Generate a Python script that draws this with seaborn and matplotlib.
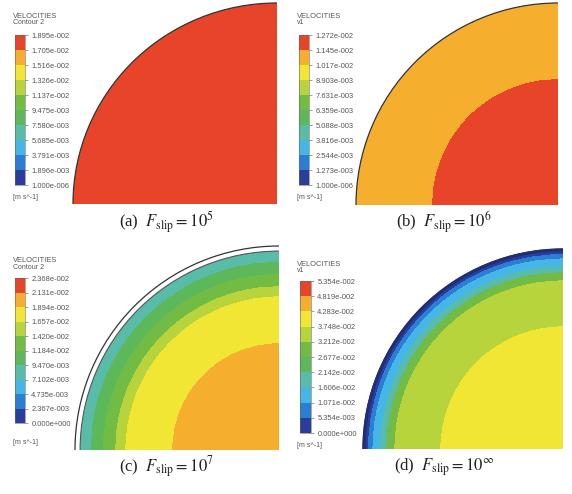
import numpy as np
import matplotlib
matplotlib.use("Agg")
import matplotlib.pyplot as plt
from matplotlib.colors import ListedColormap
from matplotlib.patches import Wedge, Arc
import seaborn as sns

sns.set_theme(style="white")
plt.rcParams['font.family'] = ['Liberation Sans', 'DejaVu Sans']
plt.rcParams['mathtext.fontset'] = 'stix'

W, H = 572, 494

# legend labels, top to bottom (as printed in the CFD legends)
ticks_a = ["1.895e-002", "1.705e-002", "1.516e-002", "1.326e-002", "1.137e-002", "9.475e-003",
           "7.580e-003", "5.685e-003", "3.791e-003", "1.896e-003", "1.000e-006"]
ticks_b = ["1.272e-002", "1.145e-002", "1.017e-002", "8.903e-003", "7.631e-003", "6.359e-003",
           "5.088e-003", "3.816e-003", "2.544e-003", "1.273e-003", "1.000e-006"]
ticks_c = ["2.368e-002", "2.131e-002", "1.894e-002", "1.657e-002", "1.420e-002", "1.184e-002",
           "9.470e-003", "7.102e-003", "4.735e-003", "2.367e-003", "0.000e+000"]
ticks_d = ["5.354e-002", "4.819e-002", "4.283e-002", "3.748e-002", "3.212e-002", "2.677e-002",
           "2.142e-002", "1.606e-002", "1.071e-002", "5.354e-003", "0.000e+000"]
subtitles = ["Contour 2", "v1", "Contour 2", "v1"]
captions = [r"(a)  $F_{\rm slip}{=}10^{5}$", r"(b)  $F_{\rm slip}{=}10^{6}$",
            r"(c)  $F_{\rm slip}{=}10^{7}$", r"(d)  $F_{\rm slip}{=}10^{\infty}$"]

# radial bands: outer edge of each band as r/R (centre outwards) and the velocity inside it
edges_a = []
vel_a = [1.86e-2]
edges_b = [0.62]
vel_b = [1.21e-2, 1.08e-2]
edges_c = [0.52, 0.75, 0.80, 0.86, 0.92]
vel_c = [2.0e-2, 1.76e-2, 1.55e-2, 1.30e-2, 1.05e-2, 0.80e-2]
edges_d = [0.61, 0.84, 0.88, 0.91, 0.95, 0.972]
vel_d = [4.0e-2, 3.45e-2, 2.9e-2, 1.9e-2, 1.3e-2, 0.8e-2, 0.25e-2]
wall = [1.0, 1.0, 0.975, 1.0]

# ANSYS-like 10 step legend colours
cmap = ListedColormap(sns.color_palette(["#2b3d9a", "#2a7fd4", "#45b6e6", "#58bca8", "#5db85a",
                                         "#72bb45", "#b8d43c", "#f2e634", "#f5ae2e", "#e8442a"]))

# layout in pixels: plot box (l, t, r, b), colorbar box, text anchors
boxes = [(73, 3, 277, 204), (356, 3, 558, 205), (75, 246, 279, 450), (363, 249, 563, 449)]
cboxes = [(15, 35, 25, 185), (299, 35, 309, 185), (15, 278, 25, 423), (300, 281, 311, 433)]
title_xy = [(13, 16), (297, 16), (13, 260), (297, 264)]
unit_y = [197, 197, 442, 445]
cap_xy = [(166, 222), (444, 222), (166, 467), (444, 467)]


def rect(b):
    l, t, r, bt = b
    return [l / W, 1 - bt / H, (r - l) / W, (bt - t) / H]


fig = plt.figure(figsize=(W / 100, H / 100), dpi=100)
fig.patch.set_facecolor("white")

g = np.linspace(-1, 0, 500)
X, Y = np.meshgrid(g, -g[::-1])
R = np.hypot(X, Y)

for i, (ticks, edges, vel) in enumerate([(ticks_a, edges_a, vel_a), (ticks_b, edges_b, vel_b),
                                         (ticks_c, edges_c, vel_c), (ticks_d, edges_d, vel_d)]):
    levels = [float(t) for t in ticks[::-1]]
    field = np.array(vel)[np.digitize(R, edges)]
    ax = fig.add_axes(rect(boxes[i]))
    cs = ax.contourf(X, Y, field, levels=levels, cmap=cmap)
    clip = Wedge((0, 0), wall[i], 90, 180, transform=ax.transData)
    cs.set_clip_path(clip)
    ax.set_xlim(-1, 0)
    ax.set_ylim(0, 1)
    ax.axis("off")
    ax.add_patch(Arc((0, 0), 2, 2, theta1=90, theta2=180, color="#333333", lw=0.9, clip_on=False))
    if wall[i] < 1:
        ax.add_patch(Arc((0, 0), 2 * wall[i], 2 * wall[i], theta1=90, theta2=180,
                         color="#555555", lw=0.8, clip_on=False))
    if i == 3:
        ax.add_patch(Arc((0, 0), 1.99, 1.99, theta1=90, theta2=180, color="#1f2d7a",
                         lw=2.2, clip_on=False))
    ax.axvline(0, color="#777777", lw=0.6)
    ax.axhline(0, color="#777777", lw=0.6)

    cax = fig.add_axes(rect(cboxes[i]))
    cb = fig.colorbar(cs, cax=cax, ticks=levels)
    cb.set_ticklabels(ticks[::-1])
    cb.outline.set_linewidth(0.4)
    cb.outline.set_edgecolor("#666666")
    cax.tick_params(labelsize=5.4, length=2, width=0.4, pad=2.5, colors="#555555", right=True)

    tx, ty = title_xy[i]
    fig.text(tx / W, 1 - ty / H, "VELOCITIES", fontsize=5.4, color="#555555", va="center")
    fig.text(tx / W, 1 - (ty + 7) / H, subtitles[i], fontsize=5, color="#555555", va="center")
    fig.text(tx / W, 1 - unit_y[i] / H, "[m s^-1]", fontsize=5, color="#555555", va="center")
    cx, cy = cap_xy[i]
    fig.text(cx / W, 1 - cy / H, captions[i], fontsize=12, family="Liberation Serif",
             ha="center", va="center", color="#222222")

fig.savefig("out.png", dpi=100, facecolor="white")
